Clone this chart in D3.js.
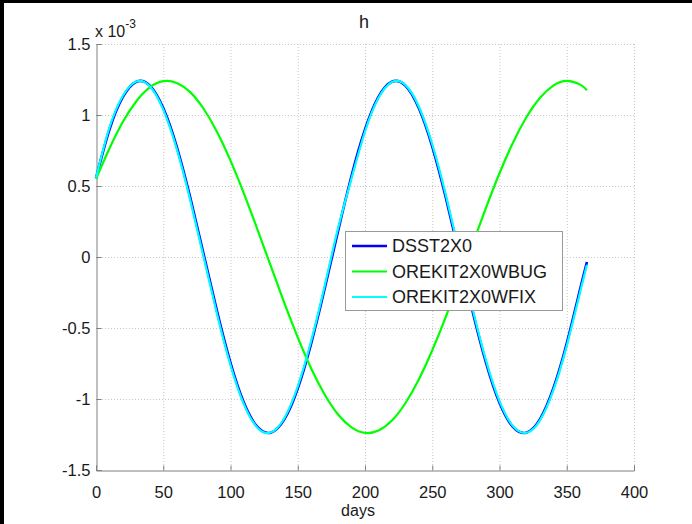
<!DOCTYPE html>
<html>
<head>
<meta charset="utf-8">
<script src="https://cdn.jsdelivr.net/npm/d3@7"></script>
<style>
  html, body { margin: 0; padding: 0; background: #fff; }
  svg { display: block; font-family: "Liberation Sans", Arial, sans-serif; }
</style>
</head>
<body>
<svg id="chart" width="692" height="524"></svg>
<script>
// days sampled every 10 (plus the last day)
var days = [0, 10, 20, 30, 40, 50, 60, 70, 80, 90, 100, 110, 120, 130, 140, 150, 160, 170, 180,
            190, 200, 210, 220, 230, 240, 250, 260, 270, 280, 290, 300, 310, 320, 330, 340, 350, 360, 365];

// values in units of 1e-3
var dsst = [0.555, 0.898, 1.127, 1.234, 1.207, 1.049, 0.778, 0.422, 0.021, -0.383, -0.745, -1.027, -1.197, -1.237,
            -1.144, -0.926, -0.608, -0.224, 0.184, 0.572, 0.898, 1.127, 1.234, 1.207, 1.049, 0.778, 0.422, 0.021,
            -0.383, -0.745, -1.027, -1.197, -1.237, -1.144, -0.926, -0.608, -0.224, -0.035];
var wbug = [0.550, 0.764, 0.952, 1.097, 1.194, 1.238, 1.226, 1.161, 1.044, 0.881, 0.679, 0.447, 0.195, -0.065,
            -0.323, -0.566, -0.785, -0.968, -1.109, -1.200, -1.239, -1.222, -1.152, -1.030, -0.863, -0.657, -0.423,
            -0.169, 0.091, 0.348, 0.590, 0.805, 0.984, 1.120, 1.207, 1.240, 1.214, 1.175];
var wfix = [0.558, 0.912, 1.136, 1.236, 1.202, 1.038, 0.762, 0.403, 0.000, -0.403, -0.762, -1.038, -1.202, -1.236,
            -1.136, -0.912, -0.590, -0.204, 0.204, 0.554, 0.884, 1.119, 1.232, 1.212, 1.060, 0.794, 0.441, 0.042,
            -0.364, -0.729, -1.015, -1.191, -1.238, -1.152, -0.940, -0.626, -0.245, -0.055];

var seriesNames = ["DSST2X0", "OREKIT2X0WBUG", "OREKIT2X0WFIX"];
var seriesColors = ["#0000ff", "#00ff00", "#00ffff"];
var xTicks = [0, 50, 100, 150, 200, 250, 300, 350, 400];
var yTicks = [-1.5, -1, -0.5, 0, 0.5, 1, 1.5];

var svg = d3.select("#chart");

// black frame at top and left, as in the screenshot
svg.append("rect").attr("x", 0).attr("y", 0).attr("width", 692).attr("height", 3).attr("fill", "#000");
svg.append("rect").attr("x", 0).attr("y", 0).attr("width", 4).attr("height", 524).attr("fill", "#000");

var x = d3.scaleLinear().domain([0, 400]).range([96, 634]);
var y = d3.scaleLinear().domain([-1.5, 1.5]).range([470, 44]);

// grid
var grid = svg.append("g").attr("stroke", "#c8c8c8").attr("stroke-width", 1).attr("stroke-dasharray", "1,2");
grid.selectAll(".gx").data(xTicks.slice(1)).enter().append("line")
    .attr("x1", function (d) { return x(d) + 0.5; }).attr("x2", function (d) { return x(d) + 0.5; })
    .attr("y1", 44).attr("y2", 470);
grid.selectAll(".gy").data(yTicks.slice(1)).enter().append("line")
    .attr("y1", function (d) { return y(d) + 0.5; }).attr("y2", function (d) { return y(d) + 0.5; })
    .attr("x1", 96).attr("x2", 634);

// axes (ticks inward)
var xAxis = svg.append("g").attr("transform", "translate(0,470.5)")
    .call(d3.axisTop(x).tickValues(xTicks).tickSize(5).tickFormat(d3.format("d")));
xAxis.selectAll("text").attr("y", 16).attr("dy", "0.71em");
var yAxis = svg.append("g").attr("transform", "translate(96.5,0)")
    .call(d3.axisRight(y).tickValues(yTicks).tickSize(5).tickFormat(function (d) { return d; }));
yAxis.selectAll("text").attr("x", -6).attr("text-anchor", "end");

[xAxis, yAxis].forEach(function (a) {
    a.select(".domain").attr("stroke", "#808080");
    a.selectAll(".tick line").attr("stroke", "#808080");
    a.selectAll("text").attr("fill", "#1a1a1a").attr("font-size", 16.5)
        .attr("font-family", "Liberation Sans, Arial, sans-serif");
});

// lines
var line = d3.line()
    .x(function (d) { return x(d[0]); })
    .y(function (d) { return y(d[1]); })
    .curve(d3.curveNatural);

var allSeries = [dsst, wbug, wfix];
var widths = [2.6, 2.2, 2.2];
allSeries.forEach(function (vals, i) {
    svg.append("path")
        .datum(days.map(function (t, k) { return [t, vals[k]]; }))
        .attr("fill", "none")
        .attr("stroke", seriesColors[i])
        .attr("stroke-width", widths[i])
        .attr("d", line);
});

// title, labels, exponent
svg.append("text").attr("x", 364).attr("y", 28).attr("text-anchor", "middle")
    .attr("font-size", 18).attr("fill", "#1a1a1a").text("h");
svg.append("text").attr("x", 358).attr("y", 516).attr("text-anchor", "middle")
    .attr("font-size", 16).attr("fill", "#1a1a1a").text("days");
var expo = svg.append("text").attr("x", 95).attr("y", 37).attr("font-size", 16).attr("fill", "#1a1a1a");
expo.append("tspan").text("x 10");
expo.append("tspan").attr("dy", -9).attr("font-size", 12).text("-3");

// legend
var legend = svg.append("g");
legend.append("rect").attr("x", 345.5).attr("y", 231.5).attr("width", 217).attr("height", 79)
    .attr("fill", "#fff").attr("stroke", "#999").attr("stroke-width", 1);
var rows = legend.selectAll(".row").data(seriesNames).enter().append("g")
    .attr("transform", function (d, i) { return "translate(0," + (246 + i * 25.5) + ")"; });
rows.append("line").attr("x1", 352).attr("x2", 387).attr("y1", 0).attr("y2", 0)
    .attr("stroke", function (d, i) { return seriesColors[i]; })
    .attr("stroke-width", function (d, i) { return widths[i]; });
rows.append("text").attr("x", 392).attr("y", 0).attr("dy", "0.36em")
    .attr("font-size", 18).attr("fill", "#1a1a1a").text(function (d) { return d; });
</script>
</body>
</html>
